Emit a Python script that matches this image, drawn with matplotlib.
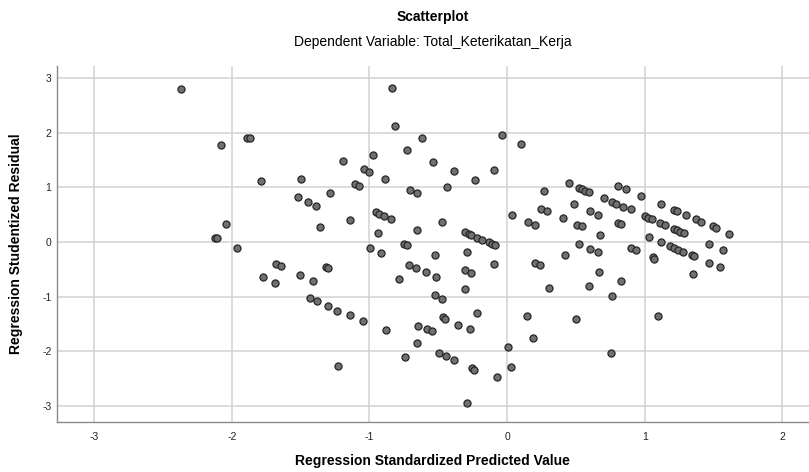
import matplotlib
matplotlib.use('Agg')
import matplotlib.pyplot as plt

plt.rcParams['font.family'] = ['Liberation Sans', 'DejaVu Sans']
plt.rcParams['axes.unicode_minus'] = False

title = 'Scatterplot'
subtitle = 'Dependent Variable: Total_Keterikatan_Kerja'
xLabel = 'Regression Standardized Predicted Value'
yLabel = 'Regression Studentized Residual'

xTicks = [-3, -2, -1, 0, 1, 2]
yTicks = [-3, -2, -1, 0, 1, 2, 3]

# values
predicted = [
    -2.37, -2.08, -1.89, -1.865, -1.79, -1.50, -1.52, -1.45, -1.39, -1.36,
    -2.04, -2.12, -2.11, -1.96, -0.833, -0.818, -0.617, -0.724, -1.19, -0.976,
    -0.537, -0.384, -1.04, -1.007, -0.889, -1.104, -1.075, -1.284, -0.704, -0.656,
    -0.435, -1.143, -0.956, -0.932, -0.893, -0.845, -0.937, -0.656, -0.474, -0.748,
    -0.729, -0.995, -0.913, -0.525, -0.038, 0.103, -0.093, -0.236, 0.447, 0.52,
    0.544, 0.569, 0.593, 0.265, 0.484, 0.246, 0.29, 0.038, 0.409, 0.602,
    0.658, 0.149, 0.2, 0.51, 0.544, 0.673, -0.309, -0.28, -0.26, -0.217,
    -0.183, -0.135, -0.11, -0.089, -0.292, 0.52, 0.602, 0.658, 0.418, 0.806,
    0.862, 0.971, 0.704, 0.76, 0.791, 0.842, 0.898, 0.806, 0.825, 1.116,
    1.211, 1.233, 1.298, 1.371, 1.407, 1.495, 1.516, 1.611, 1.002, 1.024,
    1.051, 1.114, 1.145, 1.211, 1.233, 1.257, 1.286, 1.034, 1.116, 1.182,
    1.209, 1.242, 1.274, 1.47, 1.567, 0.898, 0.935, 1.342, 1.36, -1.776,
    -1.681, -1.642, -1.684, -1.502, -1.41, -1.431, -1.385, -1.315, -1.303, -1.30,
    -1.233, -1.143, -1.049, -1.228, -0.716, -0.66, -0.593, -0.52, -0.787, -0.525,
    -0.471, -0.879, -0.644, -0.583, -0.547, -0.658, -0.743, -0.464, -0.452, -0.355,
    -0.493, -0.447, -0.384, -0.309, -0.26, -0.096, -0.309, 0.202, 0.239, 0.302,
    0.665, 0.593, -0.217, -0.273, 0.147, 0.498, 0.185, 0.004, -0.256, -0.241,
    0.03, -0.076, -0.29, 0.83, 0.765, 0.758, 1.06, 1.07, 1.468, 1.543,
    1.347, 1.097,
]
residual = [
    2.80, 1.78, 1.91, 1.91, 1.12, 1.16, 0.82, 0.74, 0.66, 0.28,
    0.34, 0.07, 0.08, -0.10, 2.82, 2.12, 1.91, 1.69, 1.49, 1.59,
    1.47, 1.30, 1.33, 1.29, 1.15, 1.07, 1.02, 0.90, 0.956, 0.896,
    1.005, 0.397, 0.543, 0.512, 0.47, 0.42, 0.17, 0.214, 0.36, -0.03,
    -0.05, -0.11, -0.195, -0.24, 1.956, 1.79, 1.316, 1.133, 1.079, 0.99,
    0.98, 0.94, 0.914, 0.93, 0.69, 0.609, 0.561, 0.488, 0.439, 0.56,
    0.49, 0.366, 0.316, 0.316, 0.287, 0.128, 0.177, 0.15, 0.128, 0.079,
    0.037, -0.005, -0.03, -0.06, -0.18, -0.037, -0.12, -0.18, -0.24, 1.03,
    0.98, 0.846, 0.80, 0.73, 0.70, 0.645, 0.598, 0.342, 0.323, 0.69,
    0.585, 0.561, 0.5, 0.415, 0.37, 0.293, 0.26, 0.152, 0.48, 0.444,
    0.415, 0.347, 0.31, 0.243, 0.214, 0.183, 0.159, 0.09, 0.0, -0.07,
    -0.1, -0.14, -0.18, -0.037, -0.146, -0.1, -0.146, -0.243, -0.26, -0.634,
    -0.40, -0.44, -0.744, -0.598, -0.707, -1.018, -1.084, -0.45, -0.475, -1.164,
    -1.26, -1.33, -1.438, -2.267, -0.415, -0.47, -0.548, -0.634, -0.68, -0.963,
    -1.036, -1.615, -1.53, -1.59, -1.627, -1.852, -2.108, -1.377, -1.413, -1.51,
    -2.035, -2.09, -2.163, -0.512, -0.572, -0.40, -0.86, -0.378, -0.42, -0.847,
    -0.543, -0.804, -1.298, -1.59, -1.359, -1.408, -1.761, -1.913, -2.303, -2.334,
    -2.285, -2.474, -2.937, -0.72, -0.987, -2.03, -0.28, -0.30, -0.384, -0.463,
    -0.59, -1.353,
]


def drawScatter():
    fig = plt.figure(figsize=(8.09, 4.72), dpi=100)
    ax = fig.add_axes([0.0705, 0.106, 0.929, 0.754])

    ax.scatter(predicted, residual, s=26, facecolor='#707070',
               edgecolor='#262626', linewidth=0.9, zorder=3)

    ax.set_xlim(-3.27, 2.19)
    ax.set_ylim(-3.29, 3.22)
    ax.set_xticks(xTicks)
    ax.set_yticks(yTicks)
    ax.grid(True, color='#d2d2d2', linewidth=1.1, zorder=0)
    ax.tick_params(length=0, labelsize=7.5, colors='#222222')
    ax.tick_params(axis='x', pad=7)
    ax.tick_params(axis='y', pad=4)

    for side in ['top', 'right']:
        ax.spines[side].set_visible(False)
    for side in ['left', 'bottom']:
        ax.spines[side].set_color('#8a8a8a')
        ax.spines[side].set_linewidth(1.0)

    ax.set_xlabel(xLabel, fontsize=10, fontweight='bold', labelpad=9)
    ax.set_ylabel(yLabel, fontsize=10, fontweight='bold', labelpad=14)

    fig.text(0.535, 0.963, title, ha='center', va='center',
             fontsize=10, fontweight='bold')
    fig.text(0.535, 0.91, subtitle, ha='center', va='center', fontsize=10)

    fig.savefig('out.png', dpi=100)


drawScatter()
